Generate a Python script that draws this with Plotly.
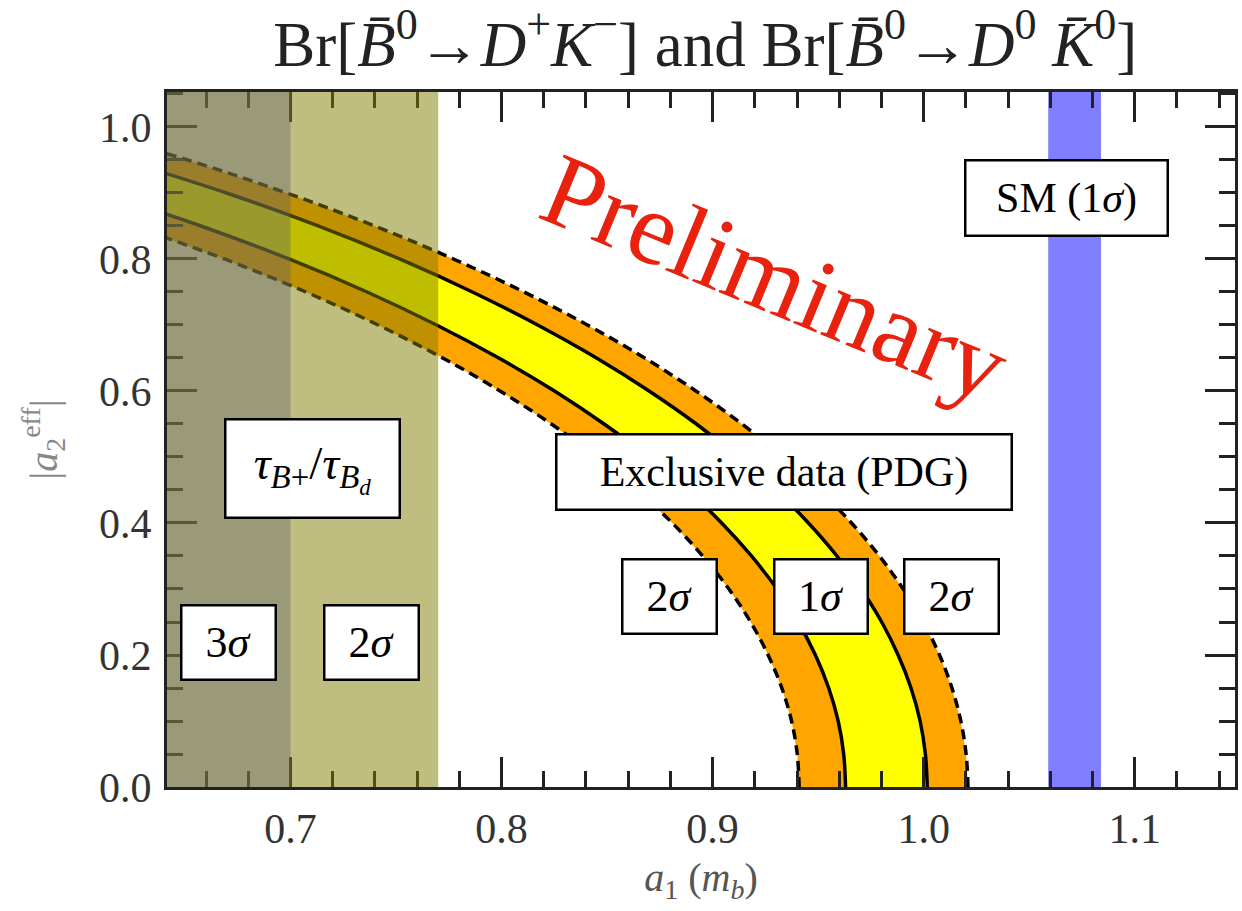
import plotly.graph_objects as go

# ---- data ----
a2_grid = [0.0, 0.05, 0.1, 0.15, 0.2, 0.25, 0.3, 0.35, 0.4, 0.45, 0.5,
           0.55, 0.6, 0.65, 0.7, 0.75, 0.8, 0.85, 0.9, 0.95, 1.0]
# a1 values of the four contours (2 sigma inner/outer dashed, 1 sigma inner/outer solid)
a1_2sig_lo = [0.941, 0.9401, 0.9374, 0.9328, 0.9263, 0.9180, 0.9077, 0.8953, 0.8809,
              0.8642, 0.8451, 0.8236, 0.7993, 0.7721, 0.7415, 0.7073, 0.6687, 0.6250]
a1_1sig_lo = [0.963, 0.9621, 0.9595, 0.9550, 0.9487, 0.9405, 0.9305, 0.9184, 0.9043,
              0.8881, 0.8696, 0.8486, 0.8251, 0.7987, 0.7692, 0.7363, 0.6993, 0.6576, 0.6103]
a1_1sig_hi = [1.0017, 1.0008, 0.9983, 0.9940, 0.9879, 0.9801, 0.9704, 0.9589, 0.9454,
              0.9299, 0.9122, 0.8923, 0.8699, 0.8450, 0.8171, 0.7862, 0.7517, 0.7131,
              0.6697, 0.6206]
a1_2sig_hi = [1.021, 1.0201, 1.0176, 1.0134, 1.0075, 0.9998, 0.9903, 0.9790, 0.9658,
              0.9506, 0.9334, 0.9139, 0.8921, 0.8678, 0.8407, 0.8106, 0.7772, 0.7399,
              0.6982, 0.6513, 0.5978]

tau_3sigma = [0.60, 0.70]   # a1 interval of the 3 sigma lifetime-ratio region
tau_2sigma = [0.60, 0.77]   # a1 interval of the 2 sigma lifetime-ratio region
sm_band = [1.059, 1.084]    # SM (1 sigma) a1 interval

x_range = [0.6415, 1.1475]
y_range = [0.0, 1.053]
x_ticks = [0.7, 0.8, 0.9, 1.0, 1.1]
y_ticks = [0.0, 0.2, 0.4, 0.6, 0.8, 1.0]

SERIF = "Liberation Serif"
fig = go.Figure()

def band(lo, hi, color):
    y_lo = a2_grid[:len(lo)]
    y_hi = a2_grid[:len(hi)]
    xs = list(hi) + list(reversed(lo))
    ys = list(y_hi) + list(reversed(y_lo))
    fig.add_trace(go.Scatter(x=xs, y=ys, fill="toself", fillcolor=color,
                             mode="none", hoverinfo="skip", showlegend=False))

band(a1_2sig_lo, a1_2sig_hi, "#ffa500")
band(a1_1sig_lo, a1_1sig_hi, "#ffff00")

for xs, dash in [(a1_2sig_lo, "10px,6px"), (a1_2sig_hi, "10px,6px"),
                 (a1_1sig_lo, "solid"), (a1_1sig_hi, "solid")]:
    fig.add_trace(go.Scatter(x=xs, y=a2_grid[:len(xs)], mode="lines",
                             line=dict(color="black", width=3.5, dash=dash, shape="spline"),
                             hoverinfo="skip", showlegend=False))

# shaded regions
fig.add_shape(type="rect", xref="x", yref="paper", x0=tau_2sigma[0], x1=tau_2sigma[1],
              y0=0, y1=1, fillcolor="rgba(127,123,0,0.5)", line=dict(width=0), layer="above")
fig.add_shape(type="rect", xref="x", yref="paper", x0=tau_3sigma[0], x1=tau_3sigma[1],
              y0=0, y1=1, fillcolor="rgba(100,100,110,0.4)", line=dict(width=0), layer="above")
fig.add_shape(type="rect", xref="x", yref="paper", x0=sm_band[0], x1=sm_band[1],
              y0=0, y1=1, fillcolor="#7f7fff", line=dict(width=0), layer="below")

def box(x, y, text, w, h, size=44):
    fig.add_annotation(x=x, y=y, xref="x", yref="y", text=text, showarrow=False,
                       font=dict(family=SERIF, size=size, color="black"),
                       bgcolor="white", bordercolor="black", borderwidth=2.5,
                       borderpad=0, width=w, height=h, align="center", valign="middle")

box(0.7104, 0.483, "<i>τ</i><sub><i>B</i>+</sub>/<i>τ</i><sub><i>B</i><sub><i>d</i></sub></sub>", 172, 96, size=47)
box(0.6705, 0.219, "3<i>σ</i>", 92, 72)
box(0.7384, 0.219, "2<i>σ</i>", 92, 72)
box(0.8795, 0.2886, "2<i>σ</i>", 92, 72)
box(0.9514, 0.2886, "1<i>σ</i>", 91, 72)
box(1.0132, 0.2886, "2<i>σ</i>", 92, 72)
box(0.934, 0.477, "Exclusive data (PDG)", 453, 73, size=42)
box(1.0677, 0.892, "SM (1<i>σ</i>)", 200, 73, size=42)

fig.add_annotation(x=0.930, y=0.772, xref="x", yref="y", text="Preliminary",
                   showarrow=False, textangle=22.5,
                   font=dict(family=SERIF, size=104, color="#e8220e"))

axis_common = dict(showline=True, linewidth=3, linecolor="#222", mirror="allticks",
                   ticks="inside", ticklen=30, tickwidth=3, tickcolor="#222",
                   showgrid=False, zeroline=False,
                   tickfont=dict(family=SERIF, size=42, color="#333"))

fig.update_xaxes(range=x_range, tickvals=x_ticks, tickformat=".1f",
                 minor=dict(ticks="inside", ticklen=16, tickwidth=3, tickcolor="#222", dtick=0.02),
                 title=dict(text="<i>a</i><sub>1</sub> (<i>m</i><sub><i>b</i></sub>)",
                            font=dict(family=SERIF, size=40, color="#555"), standoff=12),
                 ticklabelstandoff=3, **axis_common)
fig.update_yaxes(range=y_range, tickvals=y_ticks, tickformat=".1f",
                 minor=dict(ticks="inside", ticklen=16, tickwidth=3, tickcolor="#222", dtick=0.05),
                 title=dict(text="|<i>a</i><sub>2</sub><sup>eff</sup>|",
                            font=dict(family=SERIF, size=40, color="#888"), standoff=30),
                 ticklabelstandoff=4, **axis_common)

fig.update_layout(
    width=1242, height=911,
    margin=dict(l=167, r=4, t=92, b=124),
    paper_bgcolor="white", plot_bgcolor="white",
    title=dict(text="Br[<i>B̄</i><sup>0</sup>→<i>D</i><sup>+</sup><i>K</i><sup>−</sup>] and "
                    "Br[<i>B̄</i><sup>0</sup>→<i>D</i><sup>0</sup> <i>K̄</i><sup>0</sup>]",
               x=0.504, xanchor="center", xref="paper",
               y=0.952, yanchor="middle", yref="container",
               font=dict(family=SERIF, size=63, color="#222")),
)

fig.write_html("out.html")
